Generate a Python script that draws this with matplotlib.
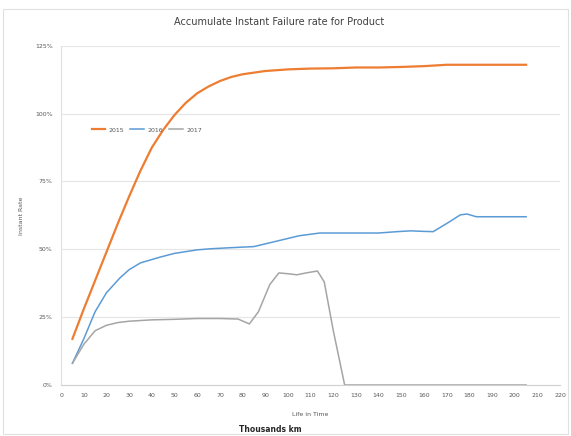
import matplotlib
matplotlib.use("Agg")
import matplotlib.pyplot as plt
import matplotlib.patches as mpatches
from matplotlib.ticker import FuncFormatter

# datos (miles de km, % acumulado)
km_2015 = [5, 10, 15, 20, 25, 30, 35, 40, 45, 50, 55, 60, 65, 70, 75, 80, 90,
           100, 110, 120, 130, 140, 150, 160, 170, 180, 190, 205]
tasa_2015 = [17, 28, 38.5, 49, 59.5, 69.5, 79, 87.5, 94, 99.5, 104, 107.5, 110, 112,
             113.5, 114.5, 115.7, 116.3, 116.6, 116.7, 117, 117, 117.2, 117.5, 118, 118, 118, 118]

km_2016 = [5, 10, 15, 20, 26, 30, 35, 44, 50, 60, 66, 75, 85, 95, 105, 114, 125,
           140, 148, 154, 160, 164, 170, 176, 179, 183, 190, 205]
tasa_2016 = [8, 17, 27, 34, 39.5, 42.5, 45, 47.2, 48.5, 49.8, 50.2, 50.6, 51, 53,
             55, 56, 56, 56, 56.5, 56.8, 56.6, 56.5, 59.5, 62.7, 63, 62, 62, 62]

km_2017 = [5, 10, 15, 20, 25, 30, 40, 50, 60, 70, 78, 83, 87, 92, 96, 100, 104,
           108, 113, 116, 120, 125, 130, 150, 170, 190, 205]
tasa_2017 = [8, 15, 20, 22, 23, 23.5, 24, 24.2, 24.5, 24.5, 24.3, 22.5, 27, 37,
             41.3, 41, 40.6, 41.3, 42, 38, 20, 0, 0, 0, 0, 0, 0]

y_ticks = [0, 25, 50, 75, 100, 125]
x_ticks = list(range(0, 221, 10))

fig = plt.figure(figsize=(5.71, 4.36), dpi=100)
ax = fig.add_axes([0.107, 0.117, 0.874, 0.778])

ax.plot(km_2015, tasa_2015, color="#ED7D31", linewidth=1.6, label="2015")
ax.plot(km_2016, tasa_2016, color="#5B9BD5", linewidth=1.1, label="2016")
ax.plot(km_2017, tasa_2017, color="#A5A5A5", linewidth=1.1, label="2017")

ax.set_xlim(0, 220)
ax.set_ylim(0, 125)
ax.set_xticks(x_ticks)
ax.set_yticks(y_ticks)
ax.yaxis.set_major_formatter(FuncFormatter(lambda v, p: f"{v:.0f}%"))
ax.tick_params(axis="both", length=0, labelsize=4.5, labelcolor="#595959", pad=6)
ax.grid(axis="y", color="#E5E5E5", linewidth=0.8)
ax.set_axisbelow(True)
for lado in ["top", "right"]:
    ax.spines[lado].set_visible(False)
ax.spines["left"].set_color("#E0E0E0")
ax.spines["bottom"].set_color("#D0D0D0")

ax.set_xlabel("Life in Time", fontsize=4.5, color="#595959", labelpad=10)
ax.set_ylabel("Instant Rate", fontsize=4.5, color="#595959", labelpad=8)

ax.legend(loc="center left", bbox_to_anchor=(0.05, 0.752), ncol=3, frameon=False,
          fontsize=4.5, handlelength=2.2, handletextpad=0.5, columnspacing=1.0,
          labelcolor="#595959")

fig.text(0.489, 0.95, "Accumulate Instant Failure rate for Product",
         ha="center", va="center", fontsize=7, color="#404040")
fig.text(0.473, 0.014, "Thousands km", ha="center", va="center",
         fontsize=5.5, fontweight="bold", color="#262626")

# marco exterior del gráfico
fig.patches.append(mpatches.Rectangle((0.005, 0.005), 0.99, 0.975, transform=fig.transFigure,
                                      fill=False, edgecolor="#E0E0E0", linewidth=0.8))

plt.savefig("out.png", dpi=100)
plt.close()
